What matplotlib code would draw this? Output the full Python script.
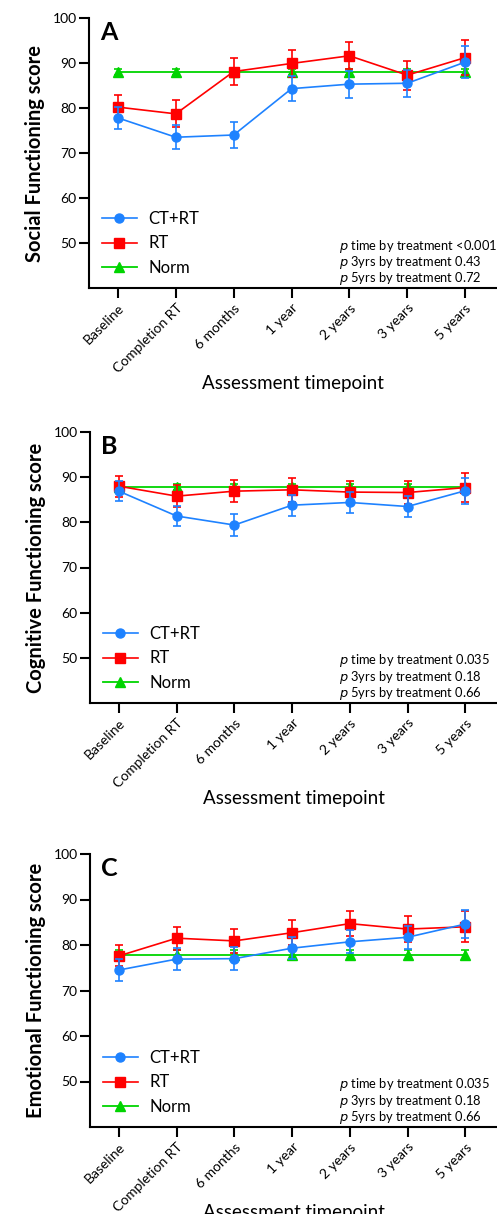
import matplotlib
matplotlib.use("Agg")
import matplotlib.pyplot as plt
import numpy as np

# ── Data ──────────────────────────────────────────────────────────────────────
timepoints = ["Baseline", "Completion RT", "6 months", "1 year",
              "2 years", "3 years", "5 years"]

social_ctrt     = [77.8, 73.5, 74.0, 84.3, 85.3, 85.5, 90.2]
social_ctrt_err = [2.5, 2.7, 2.9, 2.8, 3.0, 3.0, 3.5]
social_rt       = [80.2, 78.7, 88.1, 89.9, 91.6, 87.3, 91.2]
social_rt_err   = [2.6, 3.0, 3.0, 3.0, 3.0, 3.2, 3.9]
social_norm     = [88.0] * 7
social_norm_err = [0.7] * 7

cog_ctrt     = [86.9, 81.4, 79.4, 83.8, 84.4, 83.5, 87.0]
cog_ctrt_err = [2.2, 2.3, 2.4, 2.3, 2.3, 2.3, 2.9]
cog_rt       = [88.0, 85.8, 86.9, 87.2, 86.7, 86.6, 87.7]
cog_rt_err   = [2.3, 2.4, 2.4, 2.6, 2.5, 2.5, 3.2]
cog_norm     = [87.8] * 7
cog_norm_err = [0.7] * 7

emo_ctrt     = [74.5, 76.9, 77.0, 79.3, 80.7, 81.7, 84.6]
emo_ctrt_err = [2.4, 2.45, 2.5, 2.4, 2.5, 2.55, 3.1]
emo_rt       = [77.6, 81.5, 80.9, 82.7, 84.7, 83.5, 84.0]
emo_rt_err   = [2.3, 2.55, 2.6, 2.7, 2.75, 2.85, 3.4]
emo_norm     = [77.7] * 7
emo_norm_err = [1.1] * 7

panel_letters = ["A", "B", "C"]
ylabels = ["Social Functioning score", "Cognitive Functioning score",
           "Emotional Functioning score"]
ptexts = [
    ["time by treatment <0.001", "3yrs by treatment 0.43", "5yrs by treatment 0.72"],
    ["time by treatment 0.035", "3yrs by treatment 0.18", "5yrs by treatment 0.66"],
    ["time by treatment 0.035", "3yrs by treatment 0.18", "5yrs by treatment 0.66"],
]
series_labels = ["CT+RT", "RT", "Norm"]

panels = [
    (social_ctrt, social_ctrt_err, social_rt, social_rt_err, social_norm, social_norm_err),
    (cog_ctrt, cog_ctrt_err, cog_rt, cog_rt_err, cog_norm, cog_norm_err),
    (emo_ctrt, emo_ctrt_err, emo_rt, emo_rt_err, emo_norm, emo_norm_err),
]

# ── Style ─────────────────────────────────────────────────────────────────────
plt.rcParams["font.family"] = ["Lato", "DejaVu Sans"]
CBLUE = "#1E82FF"; CRED = "#FF0000"; CGREEN = "#00D400"; TEXT = "#000000"

W, H = 497, 1214
fig = plt.figure(figsize=(W / 100, H / 100), dpi=100, facecolor="white")

# axes boxes in pixels: (left, top, bottom); last = xlabel pad
boxes = [(89, 18, 288, 0), (90, 432, 703, 0), (90, 854, 1127, -7)]

x = np.arange(len(timepoints))
for i, (box, data) in enumerate(zip(boxes, panels)):
    left, top, bottom, xpad = box
    ax = fig.add_axes([left / W, 1 - bottom / H, (W - left) / W, (bottom - top) / H])
    ctrt, ctrt_e, rt, rt_e, norm, norm_e = data

    h_norm = ax.errorbar(x, norm, yerr=norm_e, color=CGREEN, marker="^", ms=6.5,
                         lw=1.3, capsize=3, capthick=1.2, elinewidth=1.2, zorder=2)
    h_rt = ax.errorbar(x, rt, yerr=rt_e, color=CRED, marker="s", ms=6.5,
                       lw=1.2, capsize=3, capthick=1.2, elinewidth=1.2, zorder=3)
    h_ct = ax.errorbar(x, ctrt, yerr=ctrt_e, color=CBLUE, marker="o", ms=6.5,
                       lw=1.2, capsize=3, capthick=1.2, elinewidth=1.2, zorder=4)

    ax.set_xlim(-0.5, 6.55)
    ax.set_ylim(40, 100)
    ax.set_yticks([50, 60, 70, 80, 90, 100])
    ax.set_xticks(x)
    ax.set_xticklabels(timepoints, rotation=45, ha="right", rotation_mode="anchor",
                       fontsize=10)
    ax.tick_params(axis="both", direction="out", length=7, width=1.5, colors=TEXT)
    ax.tick_params(axis="y", labelsize=10, pad=2)
    ax.tick_params(axis="x", pad=3)
    for sp in ["top", "right"]:
        ax.spines[sp].set_visible(False)
    for sp in ["bottom", "left"]:
        ax.spines[sp].set_linewidth(1.5)

    ax.set_ylabel(ylabels[i], fontsize=14.5, fontweight="bold", labelpad=5)
    ax.set_xlabel("Assessment timepoint", fontsize=13.5, labelpad=xpad)

    ax.text(0.028, 0.99, panel_letters[i], transform=ax.transAxes,
            fontsize=18, fontweight="bold", va="top", ha="left")

    ax.legend([h_ct[0], h_rt[0], h_norm[0]], series_labels, loc="lower left",
              bbox_to_anchor=(-0.005, -0.01), frameon=False, fontsize=12,
              handlelength=2.1, handletextpad=0.7, labelspacing=0.5)

    for j, t in enumerate(ptexts[i]):
        ax.text(0.612, 0.155 - j * 0.06, r"$\it{p}$ " + t, transform=ax.transAxes,
                fontsize=9.3, ha="left", va="center")

fig.savefig("out.png", dpi=100, facecolor="white")
